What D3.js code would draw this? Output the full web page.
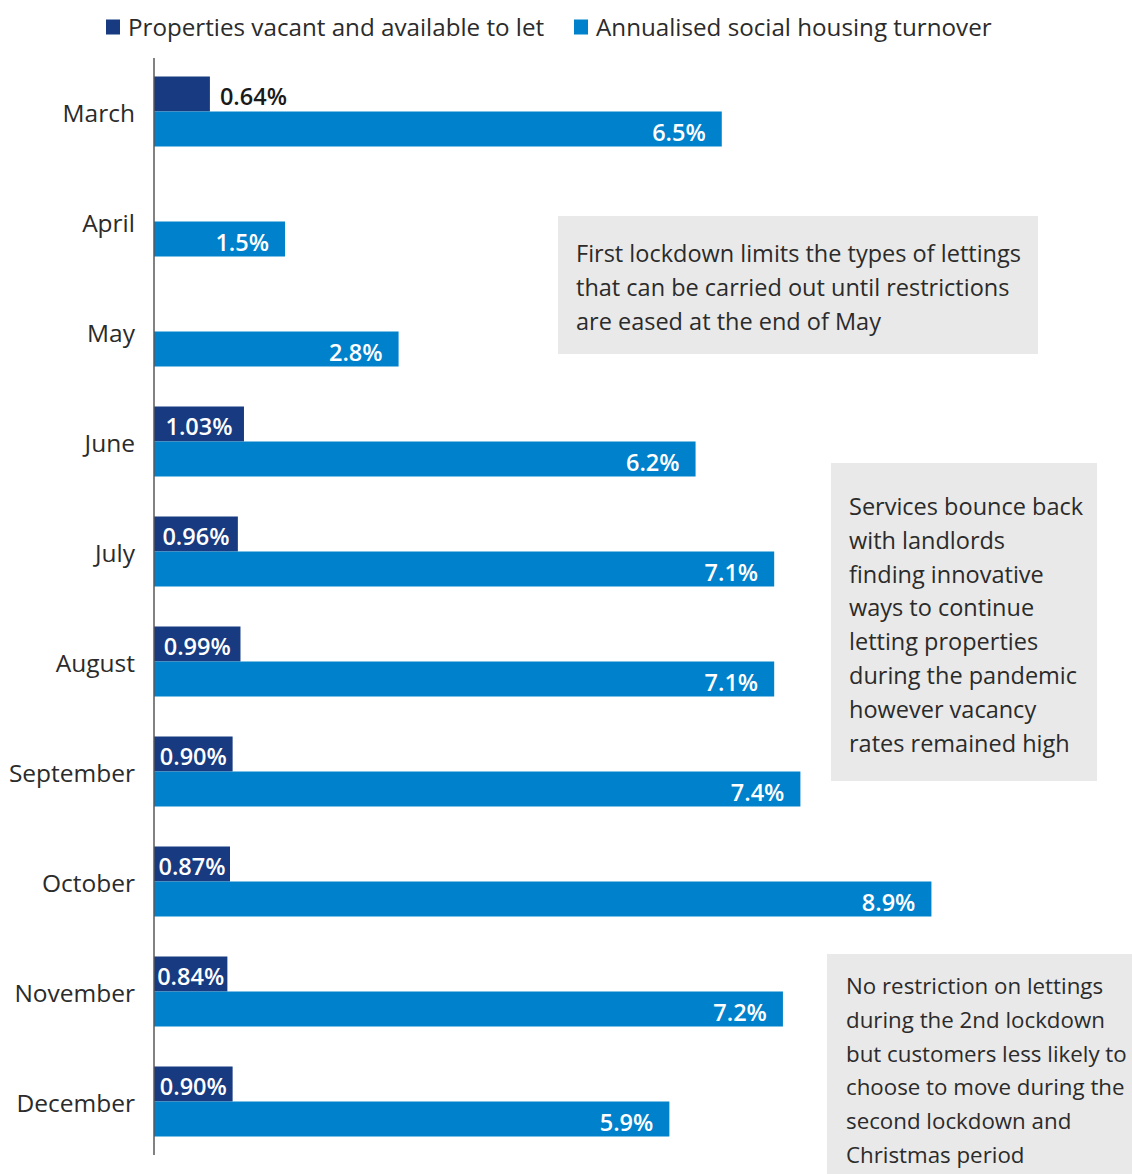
<!DOCTYPE html>
<html>
<head>
<meta charset="utf-8">
<script src="https://cdn.jsdelivr.net/npm/d3@7"></script>
<style>
  html, body { margin: 0; padding: 0; background: #fff; }
  svg { display: block; font-family: "Open Sans", "Noto Sans", sans-serif; }
</style>
</head>
<body>
<svg id="chart" width="1132" height="1174"></svg>
<script>
// Monthly categories (2020)
const months = ["March", "April", "May", "June", "July", "August",
                "September", "October", "November", "December"];

// Properties vacant and available to let (%); no figure for April and May
const vacant = [0.64, null, null, 1.03, 0.96, 0.99, 0.90, 0.87, 0.84, 0.90];

// Annualised social housing turnover (%)
const turnover = [6.5, 1.5, 2.8, 6.2, 7.1, 7.1, 7.4, 8.9, 7.2, 5.9];

const seriesNames = ["Properties vacant and available to let",
                     "Annualised social housing turnover"];
const seriesKeys = ["vacant", "turnover"];
const seriesColors = ["#173a80", "#0081cb"];

// Commentary boxes
const notes = [
  ["First lockdown limits the types of lettings",
   "that can be carried out until restrictions",
   "are eased at the end of May"],
  ["Services bounce back", "with landlords",
   "finding innovative", "ways to continue",
   "letting properties", "during the pandemic",
   "however vacancy", "rates remained high"],
  ["No restriction on lettings",
   "during the 2nd lockdown",
   "but customers less likely to",
   "choose to move during the",
   "second lockdown and",
   "Christmas period"]
];

(function draw() {
  const rows = months.map((m, i) => ({ month: m, vacant: vacant[i], turnover: turnover[i] }));

  const svg = d3.select("#chart");
  const plotLeft = 154, plotTop = 56.5, plotBottom = 1156.5;

  const x = d3.scaleLinear().domain([0, 10]).range([plotLeft, plotLeft + 873.5]);
  const y = d3.scaleBand().domain(months).range([plotTop, plotBottom])
    .paddingInner(4 / 11).paddingOuter(2 / 11);
  const ySub = d3.scaleBand().domain(seriesKeys).range([0, y.bandwidth()]);
  const color = d3.scaleOrdinal().domain(seriesKeys).range(seriesColors);

  // Annotation boxes
  const boxSpec = [
    { x0: 558, x1: 1038, y0: 216, y1: 354, tx: 576, firstBase: 262, size: 23.5 },
    { x0: 831, x1: 1097, y0: 463, y1: 781, tx: 849, firstBase: 515, size: 23.5 },
    { x0: 827, x1: 1140, y0: 954, y1: 1180, tx: 846, firstBase: 994, size: 22.3 }
  ];
  const noteG = svg.append("g").attr("class", "notes");
  notes.forEach((lines, i) => {
    const b = boxSpec[i];
    const g = noteG.append("g");
    g.append("rect")
      .attr("x", b.x0).attr("y", b.y0)
      .attr("width", b.x1 - b.x0).attr("height", b.y1 - b.y0)
      .attr("fill", "#e9e9e9");
    const lineH = 33.8;
    g.selectAll("text").data(lines).join("text")
      .attr("x", b.tx)
      .attr("y", (d, j) => b.firstBase + j * lineH)
      .attr("font-size", b.size)
      .attr("fill", "#2b2b2b")
      .text(d => d);
  });

  // Bars
  const groups = svg.append("g").attr("class", "bars")
    .selectAll("g").data(rows).join("g")
    .attr("transform", d => `translate(0,${y(d.month)})`);

  groups.selectAll("rect")
    .data(d => seriesKeys.filter(k => d[k] != null).map(k => ({ key: k, value: d[k] })))
    .join("rect")
    .attr("x", x(0))
    .attr("y", d => ySub(d.key))
    .attr("width", d => x(d.value) - x(0))
    .attr("height", ySub.bandwidth())
    .attr("fill", d => color(d.key));

  // Value labels
  const fmtVac = d3.format(".2f");
  const fmtTurn = d3.format(".1f");
  groups.each(function (d) {
    const g = d3.select(this);
    if (d.vacant != null) {
      const inside = x(d.vacant) - x(0) > 60;
      g.append("text")
        .attr("x", inside ? (x(0) + x(d.vacant)) / 2 : x(d.vacant) + 10)
        .attr("y", ySub("vacant") + ySub.bandwidth() / 2 + 11)
        .attr("text-anchor", inside ? "middle" : "start")
        .attr("font-size", 23.5)
        .attr("font-weight", 600)
        .attr("fill", inside ? "#ffffff" : "#1a1a1a")
        .text(fmtVac(d.vacant) + "%");
    }
    g.append("text")
      .attr("x", x(d.turnover) - 16)
      .attr("y", ySub("turnover") + ySub.bandwidth() / 2 + 12)
      .attr("text-anchor", "end")
      .attr("font-size", 23.5)
      .attr("font-weight", 600)
      .attr("fill", "#ffffff")
      .text(fmtTurn(d.turnover) + "%");
  });

  // Category axis
  const axis = svg.append("g").attr("class", "y-axis")
    .attr("transform", `translate(${plotLeft},0)`)
    .call(d3.axisLeft(y).tickSize(0).tickPadding(19));
  axis.select(".domain").attr("stroke", "#595959").attr("stroke-width", 1.5)
    .attr("d", `M0,${plotTop + 1.5}V${plotBottom - 1.5}`);
  axis.selectAll(".tick text")
    .attr("dy", "0.42em")
    .attr("font-size", 24.5)
    .attr("font-family", "\"Open Sans\", \"Noto Sans\", sans-serif")
    .attr("fill", "#2b2b2b");

  // Legend
  const legendX = [106, 574];
  const legend = svg.append("g").attr("class", "legend")
    .selectAll("g").data(seriesKeys).join("g")
    .attr("transform", (d, i) => `translate(${legendX[i]},27)`);
  legend.append("rect")
    .attr("x", 0).attr("y", -7.5).attr("width", 14).attr("height", 15)
    .attr("fill", d => color(d));
  legend.append("text")
    .attr("x", 22).attr("y", 8.5)
    .attr("font-size", 24.2)
    .attr("fill", "#2b2b2b")
    .text((d, i) => seriesNames[i]);
})();
</script>
</body>
</html>
